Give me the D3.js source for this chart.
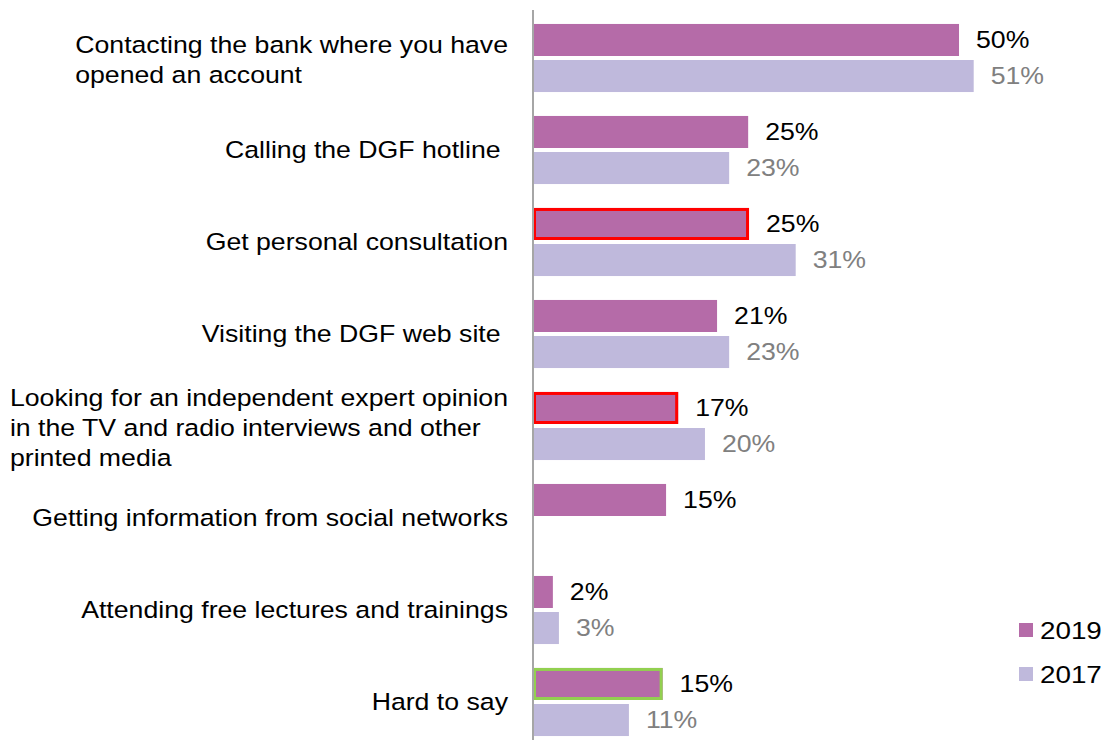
<!DOCTYPE html>
<html><head><meta charset="utf-8">
<script src="https://cdn.jsdelivr.net/npm/d3@7"></script>
<style>body{margin:0;background:#fff;} svg{display:block;font-family:Arial,"Liberation Sans",sans-serif;}</style>
</head><body>
<svg id="c" width="1107" height="740"></svg>
<script>
const categories = [
  "Contacting the bank where you have|opened an account",
  "Calling the DGF hotline ",
  "Get personal consultation",
  "Visiting the DGF web site ",
  "Looking for an independent expert opinion|in the TV and radio interviews and other|printed media",
  "Getting information from social networks",
  "Attending free lectures and trainings",
  "Hard to say"
];
const seriesNames = ["2019", "2017"];
const values2019 = [49.3, 24.9, 25.0, 21.3, 16.8, 15.4, 2.3, 15.0];
const values2017 = [51.0, 22.7, 30.4, 22.7, 19.9, null, 3.0, 11.1];
const labels2019 = ["50%", "25%", "25%", "21%", "17%", "15%", "2%", "15%"];
const labels2017 = ["51%", "23%", "31%", "23%", "20%", null, "3%", "11%"];
const outlines2019 = [null, null, "#ff0000", null, "#ff0000", null, null, "#92d050"];
const colors = ["#b56ba8", "#bfb9dc"];
const labelColors = ["#000000", "#808080"];

const SX = 1.135; // horizontal stretch of text seen in the reference
const FS = 23.5;
const svg = d3.select("#c");
const x0 = 533;
const x = d3.scaleLinear().domain([0, 51]).range([x0, 973.7]);
const y = d3.scaleBand().domain(categories).range([12, 748]).paddingInner(0.26).paddingOuter(0.13);
const ys = d3.scaleBand().domain(seriesNames).range([0, y.bandwidth()]).paddingInner(0.111);

const seriesVals = [values2019, values2017];
const seriesLabels = [labels2019, labels2017];
seriesNames.forEach((s, si) => {
  const data = categories.map((c, i) => ({c, i, v: seriesVals[si][i], l: seriesLabels[si][i]})).filter(d => d.v != null);
  const g = svg.append("g");
  g.selectAll("rect").data(data).join("rect")
    .attr("x", x(0))
    .attr("y", d => y(d.c) + ys(s))
    .attr("width", d => x(d.v) - x(0))
    .attr("height", ys.bandwidth())
    .attr("fill", colors[si]);
  if (si === 0) {
    g.selectAll("rect.o").data(data.filter(d => outlines2019[d.i])).join("rect")
      .attr("class", "o")
      .attr("x", x(0) + 1.5)
      .attr("y", d => y(d.c) + ys(s) + 1.5)
      .attr("width", d => x(d.v) - x(0) - 3)
      .attr("height", ys.bandwidth() - 3)
      .attr("fill", "none")
      .attr("stroke", d => outlines2019[d.i])
      .attr("stroke-width", 3);
  }
  g.selectAll("text").data(data).join("text")
    .attr("transform", d => `translate(${x(d.v) + 17},${y(d.c) + ys(s) + ys.bandwidth() / 2}) scale(${SX},1)`)
    .attr("dy", "0.36em")
    .attr("font-size", FS)
    .attr("fill", labelColors[si])
    .text(d => d.l);
});

// axis line
svg.append("line").attr("x1", x0).attr("x2", x0).attr("y1", 10).attr("y2", 740)
  .attr("stroke", "#a6a6a6").attr("stroke-width", 2);

// category labels
const lineH = 30;
categories.forEach(c => {
  const lines = c.split("|");
  const cy = y(c) + y.bandwidth() / 2 + (lines.length > 1 ? 2 : 0);
  const t = svg.append("text").attr("font-size", FS).attr("fill", "#000")
    .attr("transform", `translate(508,${cy}) scale(${SX},1)`);
  lines.forEach((l, k) => {
    t.append("tspan").attr("x", 0)
      .attr("y", (k - (lines.length - 1) / 2) * lineH)
      .attr("dy", "0.36em")
      .style("white-space", "pre")
      .text(l);
  });
  const w = d3.max(t.selectAll("tspan").nodes(), n => n.getComputedTextLength());
  t.selectAll("tspan").attr("x", -w);
});

// legend
const leg = svg.append("g");
seriesNames.forEach((s, i) => {
  const ly = 630 + i * 44;
  leg.append("rect").attr("x", 1019).attr("y", ly - 7).attr("width", 14).attr("height", 14).attr("fill", colors[i]);
  leg.append("text").attr("transform", `translate(1040,${ly}) scale(${SX},1)`)
    .attr("dy", "0.36em").attr("font-size", 24.5).attr("fill", "#000").text(s);
});
</script>
</body></html>
